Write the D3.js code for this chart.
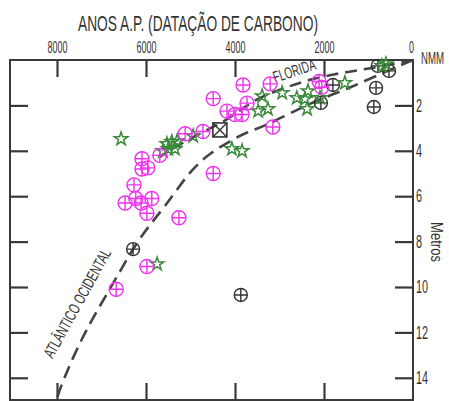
<!DOCTYPE html>
<html>
<head>
<meta charset="utf-8">
<script src="https://cdn.jsdelivr.net/npm/d3@7"></script>
<style>
  html, body { margin: 0; padding: 0; background: #fff; }
  svg { display: block; }
  text { font-family: "Liberation Sans Narrow", "Liberation Sans", Arial, sans-serif; fill: #333; }
</style>
</head>
<body>
<svg id="chart" width="449" height="401"></svg>
<script>
// ---- data ----
const xTicks = [8000, 6000, 4000, 2000, 0];
const yTicks = [2, 4, 6, 8, 10, 12, 14];

const floridaAge   = [0, 1030, 1640, 2380, 2880, 3440, 3780, 4220, 4720, 5240, 5690];
const floridaDepth = [0, 0.40, 0.57, 0.88, 1.23, 1.63, 2.07, 2.69, 3.17, 3.70, 4.27];

const atlanticAge   = [0, 740, 1420, 2090, 2760, 3330, 3730, 4110, 4560, 4940, 5280, 5570, 5840, 6070, 6320, 6580, 6880, 7260, 7600, 7930, 8000];
const atlanticDepth = [0, 0.62, 1.23, 1.72, 2.34, 2.91, 3.17, 3.57, 4.10, 4.76, 5.64, 6.43, 7.09, 7.67, 8.41, 9.30, 10.31, 11.59, 12.91, 14.45, 14.9];

const magentaAge   = [4490, 3820, 4180, 4000, 3840, 3730, 3210, 3150, 4720, 5120, 5690, 6090, 6090, 5960, 6270, 6470, 6230, 6110, 5870, 5980, 5260, 4490, 5980, 6670, 2110, 2050];
const magentaDepth = [1.70, 1.10, 2.25, 2.40, 2.40, 1.90, 1.05, 2.95, 3.15, 3.25, 4.20, 4.35, 4.80, 4.75, 5.50, 6.30, 6.10, 6.30, 6.10, 6.75, 6.95, 5.00, 9.10, 10.10, 0.95, 1.20];

const blackAge   = [2070, 1800, 830, 880, 540, 790, 6290, 3870];
const blackDepth = [1.89, 1.10, 1.23, 2.07, 0.48, 0.26, 8.33, 10.35];

const squareAge   = [4340];
const squareDepth = [3.08];

const starAge   = [6560, 5620, 5530, 5420, 5300, 5500, 5350, 4940, 4070, 3840, 3390, 3480, 3260, 2940, 2610, 2430, 2360, 2380, 2090, 1530, 700, 610, 5750];
const starDepth = [3.48, 4.01, 3.70, 3.61, 3.57, 3.92, 3.92, 3.35, 3.92, 4.01, 1.59, 2.25, 2.16, 1.45, 1.67, 1.72, 1.37, 2.16, 1.67, 1.01, 0.26, 0.18, 8.99];

// ---- layout ----
const svg = d3.select("#chart");
const pL = 10, pR = 413, pT = 60, pB = 400;
const x = d3.scaleLinear().domain([8000, 0]).range([57, 413]);
const y = d3.scaleLinear().domain([0, 15]).range([60, 400.5]);
const ink = "#3a3a3a";

svg.append("clipPath").attr("id", "clip").append("rect")
  .attr("x", pL).attr("y", pT).attr("width", pR - pL).attr("height", pB - pT);

svg.append("rect").attr("x", pL).attr("y", pT).attr("width", pR - pL).attr("height", pB - pT)
  .attr("fill", "none").attr("stroke", ink).attr("stroke-width", 2);

// axes
const gTop = svg.append("g").attr("transform", `translate(0,${pT})`)
  .call(d3.axisTop(x).tickValues(xTicks).tickSizeInner(-17).tickSizeOuter(0).tickPadding(7).tickFormat(d3.format("d")));
const gBottom = svg.append("g").attr("transform", `translate(0,${pB})`)
  .call(d3.axisBottom(x).tickValues(xTicks.filter(d => d > 0)).tickSizeInner(-17).tickSizeOuter(0).tickFormat(""));
const gLeft = svg.append("g").attr("transform", `translate(${pL},0)`)
  .call(d3.axisLeft(y).tickValues(yTicks).tickSizeInner(-18).tickSizeOuter(0).tickFormat(""));
const gRight = svg.append("g").attr("transform", `translate(${pR},0)`)
  .call(d3.axisRight(y).tickValues(yTicks).tickSizeInner(-18).tickSizeOuter(0).tickPadding(3));

[gTop, gBottom, gLeft, gRight].forEach(g => {
  g.select(".domain").remove();
  g.selectAll(".tick line").attr("stroke", ink).attr("stroke-width", 2.2);
  g.selectAll("text").attr("fill", ink).attr("font-family", '"Liberation Sans Narrow","Liberation Sans",sans-serif');
});
gTop.selectAll(".tick text").attr("font-size", 17).attr("dy", 0)
  .each(function(d) {
    const t = d3.select(this).attr("lengthAdjust", "spacingAndGlyphs");
    if (d !== 0) t.attr("textLength", 20); else t.attr("textLength", 5).attr("x", -2);
  });
gRight.selectAll(".tick text").attr("font-size", 18)
  .each(function(d) { const n = String(d).length; d3.select(this).attr("textLength", n * 6).attr("lengthAdjust", "spacingAndGlyphs"); });
gTop.selectAll(".tick").filter(d => d === 0).select("line").remove();

// title & labels
svg.append("text").attr("transform", "translate(198,31) scale(0.8,1)").attr("text-anchor", "middle")
  .attr("font-size", 22).attr("textLength", 300).attr("lengthAdjust", "spacingAndGlyphs")
  .attr("fill", ink).text("ANOS A.P. (DATAÇÃO DE CARBONO)");
svg.append("text").attr("transform", "translate(421,64) scale(0.72,1)").attr("font-size", 16)
  .attr("textLength", 32).attr("lengthAdjust", "spacingAndGlyphs").attr("fill", ink).text("NMM");
svg.append("text").attr("transform", "translate(431,242) rotate(90) scale(0.8,1)").attr("text-anchor", "middle")
  .attr("font-size", 16).attr("textLength", 50).attr("lengthAdjust", "spacingAndGlyphs").attr("fill", ink).text("Metros");

// curves
const line = d3.line().x(d => x(d[0])).y(d => y(d[1])).curve(d3.curveBasis);
const plot = svg.append("g").attr("clip-path", "url(#clip)");
plot.append("path").datum(floridaAge.map((a, i) => [a, floridaDepth[i]]))
  .attr("d", line).attr("fill", "none").attr("stroke", "#444").attr("stroke-width", 2.6).attr("stroke-dasharray", "12,7");
plot.append("path").datum(atlanticAge.map((a, i) => [a, atlanticDepth[i]]))
  .attr("d", line).attr("fill", "none").attr("stroke", "#444").attr("stroke-width", 2.6).attr("stroke-dasharray", "13,7");

svg.append("text").attr("transform", "translate(296,76) rotate(-18)").attr("text-anchor", "middle")
  .attr("font-size", 16).attr("textLength", 44).attr("lengthAdjust", "spacingAndGlyphs").attr("fill", ink).text("FLORIDA");
svg.append("text").attr("transform", "translate(82,306) rotate(-61)").attr("text-anchor", "middle")
  .attr("font-size", 16).attr("textLength", 122).attr("lengthAdjust", "spacingAndGlyphs").attr("fill", ink).text("ATLÂNTICO OCIDENTAL");

// markers
function circlePlus(g, ages, depths, color, r) {
  const m = g.selectAll(null).data(ages.map((a, i) => [a, depths[i]])).enter().append("g")
    .attr("transform", d => `translate(${x(d[0])},${y(d[1])})`);
  m.append("circle").attr("r", r).attr("fill", "none").attr("stroke", color).attr("stroke-width", 1.4);
  m.append("path").attr("d", `M${-r},0H${r}M0,${-r}V${r}`).attr("stroke", color).attr("stroke-width", 1.4);
}
const marks = svg.append("g");
circlePlus(marks, blackAge, blackDepth, "#333", 6.5);
const sq = marks.selectAll(null).data(squareAge.map((a, i) => [a, squareDepth[i]])).enter().append("g")
  .attr("transform", d => `translate(${x(d[0])},${y(d[1])})`);
sq.append("rect").attr("x", -7).attr("y", -7).attr("width", 14).attr("height", 14)
  .attr("fill", "none").attr("stroke", "#333").attr("stroke-width", 1.6);
sq.append("path").attr("d", "M-7,-7L7,7M7,-7L-7,7").attr("stroke", "#333").attr("stroke-width", 1.4);
marks.selectAll(null).data(starAge.map((a, i) => [a, starDepth[i]])).enter().append("path")
  .attr("transform", d => `translate(${x(d[0])},${y(d[1])})`)
  .attr("d", d3.symbol(d3.symbolStar, 55)())
  .attr("fill", "none").attr("stroke", "#3b8a3b").attr("stroke-width", 1.5);
circlePlus(marks, magentaAge, magentaDepth, "#ee33ee", 7);
</script>
</body>
</html>
